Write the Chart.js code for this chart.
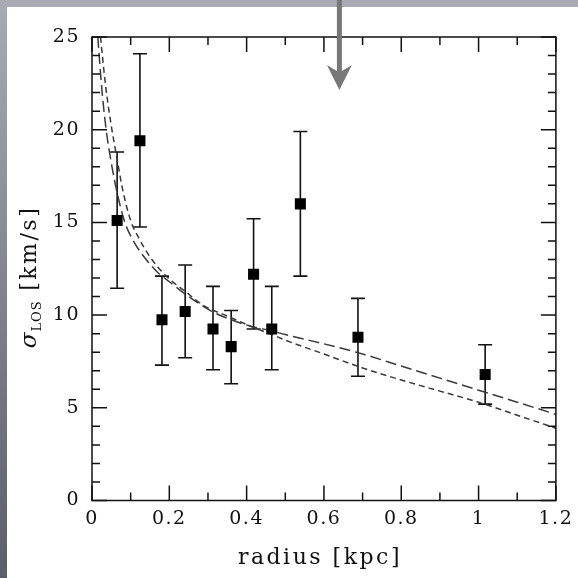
<!DOCTYPE html>
<html>
<head>
<meta charset="utf-8">
<script src="https://cdn.jsdelivr.net/npm/chart.js@4.4.1/dist/chart.umd.min.js"></script>
<style>
  html, body { margin: 0; padding: 0; background: #fff; }
</style>
</head>
<body>
<canvas id="dispersionChart" width="578" height="578"></canvas>
<script>
// binned line-of-sight velocity dispersion with 1-sigma errors
const radius  = [0.065, 0.124, 0.181, 0.241, 0.313, 0.360, 0.418, 0.465, 0.539, 0.688, 1.017];
const sigma   = [15.1, 19.4, 9.75, 10.2, 9.25, 8.3, 12.2, 9.25, 16.0, 8.8, 6.8];
const errHigh = [18.8, 24.1, 12.1, 12.7, 11.55, 10.25, 15.2, 11.55, 19.9, 10.9, 8.4];
const errLow  = [11.45, 14.75, 7.3, 7.7, 7.05, 6.3, 9.25, 7.05, 12.1, 6.7, 5.2];

// model curves (long dash / short dash)
const modelLongR = [0.015, 0.025, 0.036, 0.05, 0.065, 0.085, 0.11, 0.14, 0.17, 0.2, 0.25, 0.31, 0.36, 0.41, 0.465, 0.5, 0.6, 0.7, 0.8, 0.9, 1.0, 1.1, 1.2];
const modelLongS = [25, 22.3, 20.1, 18.2, 16.6, 15.0, 13.9, 13.0, 12.3, 11.8, 11.0, 10.2, 9.75, 9.4, 9.15, 8.95, 8.45, 7.9, 7.25, 6.6, 5.95, 5.3, 4.65];
const modelShortR = [0.022, 0.035, 0.05, 0.065, 0.08, 0.1, 0.12, 0.145, 0.17, 0.2, 0.24, 0.29, 0.35, 0.41, 0.465, 0.5, 0.6, 0.7, 0.8, 0.9, 1.0, 1.1, 1.2];
const modelShortS = [25, 22.4, 20.2, 18.4, 16.7, 15.1, 14.2, 13.3, 12.6, 11.95, 11.3, 10.5, 9.95, 9.4, 8.95, 8.65, 7.9, 7.15, 6.5, 5.9, 5.3, 4.6, 3.9];

// radius marked by the arrow
const arrowR = 0.64;

const FONT = 'DejaVu Serif';
const INK = '#111';

const toPoints = (xs, ys) => xs.map((x, i) => ({ x: x, y: ys[i] }));

const isMajorX = v => Math.abs(v / 0.2 - Math.round(v / 0.2)) < 1e-6;
const isMajorY = v => Math.abs(v / 5 - Math.round(v / 5)) < 1e-6;

// grey page edge on the left and top, white panel
const backdrop = {
  id: 'backdrop',
  beforeDraw(chart) {
    const ctx = chart.ctx;
    const g = ctx.createLinearGradient(0, 0, 0, chart.height);
    g.addColorStop(0, '#aaaab3');
    g.addColorStop(1, '#5c5c6b');
    ctx.fillStyle = g;
    ctx.fillRect(0, 0, chart.width, chart.height);
    ctx.fillStyle = '#fff';
    ctx.fillRect(7, 7, chart.width - 7, chart.height - 7);
    ctx.letterSpacing = '1.5px';
  }
};

const errorBars = {
  id: 'errorBars',
  beforeDatasetsDraw(chart) {
    const ctx = chart.ctx;
    const xs = chart.scales.x, ys = chart.scales.y;
    ctx.save();
    ctx.strokeStyle = INK;
    ctx.lineWidth = 1.6;
    radius.forEach((r, i) => {
      const px = xs.getPixelForValue(r);
      const top = ys.getPixelForValue(errHigh[i]);
      const bot = ys.getPixelForValue(errLow[i]);
      ctx.beginPath();
      ctx.moveTo(px, top); ctx.lineTo(px, bot);
      ctx.moveTo(px - 7, top); ctx.lineTo(px + 7, top);
      ctx.moveTo(px - 7, bot); ctx.lineTo(px + 7, bot);
      ctx.stroke();
    });
    ctx.restore();
  }
};

// box with inward ticks on all four sides, axis titles, arrow
const frame = {
  id: 'frame',
  afterDraw(chart) {
    const ctx = chart.ctx;
    const a = chart.chartArea;
    const xs = chart.scales.x, ys = chart.scales.y;
    ctx.save();
    ctx.strokeStyle = INK;
    ctx.lineWidth = 1.5;
    ctx.strokeRect(a.left, a.top, a.right - a.left, a.bottom - a.top);
    ctx.beginPath();
    xs.ticks.forEach(t => {
      const px = xs.getPixelForValue(t.value);
      const len = isMajorX(t.value) ? 15 : 8;
      ctx.moveTo(px, a.bottom); ctx.lineTo(px, a.bottom - len);
      ctx.moveTo(px, a.top); ctx.lineTo(px, a.top + len);
    });
    ys.ticks.forEach(t => {
      const py = ys.getPixelForValue(t.value);
      const len = isMajorY(t.value) ? 15 : 8;
      ctx.moveTo(a.left, py); ctx.lineTo(a.left + len, py);
      ctx.moveTo(a.right, py); ctx.lineTo(a.right - len, py);
    });
    ctx.stroke();

    // x title
    ctx.fillStyle = INK;
    ctx.letterSpacing = '2.5px';
    ctx.font = '22px "' + FONT + '"';
    ctx.textAlign = 'center';
    ctx.textBaseline = 'alphabetic';
    ctx.fillText('radius [kpc]', (a.left + a.right) / 2 - 4, 564);

    // y title: sigma with LOS subscript, rotated
    ctx.translate(36, 277);
    ctx.rotate(-Math.PI / 2);
    ctx.textAlign = 'left';
    const sym = 'σ', sub = 'LOS', unit = ' [km/s]';
    ctx.font = 'italic 23px "' + FONT + '"';
    ctx.letterSpacing = '1px';
    const wSym = ctx.measureText(sym).width;
    ctx.font = '13px "' + FONT + '"';
    ctx.letterSpacing = '1px';
    const wSub = ctx.measureText(sub).width;
    ctx.font = '22px "' + FONT + '"';
    ctx.letterSpacing = '2.5px';
    const wUnit = ctx.measureText(unit).width;
    let x0 = -(wSym + wSub + wUnit) / 2;
    ctx.font = 'italic 23px "' + FONT + '"';
    ctx.letterSpacing = '1px';
    ctx.fillText(sym, x0, 0);
    x0 += wSym;
    ctx.font = '13px "' + FONT + '"';
    ctx.fillText(sub, x0, 5);
    x0 += wSub;
    ctx.font = '22px "' + FONT + '"';
    ctx.letterSpacing = '2.5px';
    ctx.fillText(unit, x0, 0);
    ctx.setTransform(1, 0, 0, 1, 0, 0);

    // arrow pointing down into the plot
    const ax = xs.getPixelForValue(arrowR);
    ctx.fillStyle = '#787878';
    ctx.beginPath();
    ctx.moveTo(ax - 2.5, 0);
    ctx.lineTo(ax - 2.5, 71);
    ctx.lineTo(ax - 12.5, 65);
    ctx.lineTo(ax, 90);
    ctx.lineTo(ax + 12.5, 65);
    ctx.lineTo(ax + 2.5, 71);
    ctx.lineTo(ax + 2.5, 0);
    ctx.closePath();
    ctx.fill();
    ctx.restore();
  }
};

new Chart(document.getElementById('dispersionChart'), {
  type: 'scatter',
  data: {
    datasets: [
      {
        label: 'data',
        data: toPoints(radius, sigma),
        pointStyle: 'rect',
        pointRadius: 7.8,
        backgroundColor: '#000',
        borderColor: '#000',
        borderWidth: 0
      },
      {
        label: 'model long dash',
        data: toPoints(modelLongR, modelLongS),
        showLine: true,
        pointRadius: 0,
        borderColor: '#3a3a3a',
        borderWidth: 1.5,
        borderDash: [11, 5],
        cubicInterpolationMode: 'monotone'
      },
      {
        label: 'model short dash',
        data: toPoints(modelShortR, modelShortS),
        showLine: true,
        pointRadius: 0,
        borderColor: '#3a3a3a',
        borderWidth: 1.5,
        borderDash: [6, 4],
        cubicInterpolationMode: 'monotone'
      }
    ]
  },
  options: {
    responsive: false,
    animation: false,
    devicePixelRatio: 1,
    layout: { padding: { left: 0, top: 37, right: 22, bottom: 0 } },
    plugins: { legend: { display: false }, tooltip: { enabled: false } },
    scales: {
      x: {
        type: 'linear',
        min: 0,
        max: 1.2,
        grid: { display: false, drawTicks: false },
        border: { display: false },
        ticks: {
          stepSize: 0.1,
          autoSkip: false,
          maxRotation: 0,
          padding: 7,
          color: INK,
          font: { family: FONT, size: 19 },
          callback: v => isMajorX(v) ? String(Math.round(v * 10) / 10) : ''
        },
        afterFit: s => { s.height = 77.5; }
      },
      y: {
        type: 'linear',
        min: 0,
        max: 25,
        grid: { display: false, drawTicks: false },
        border: { display: false },
        ticks: {
          stepSize: 1,
          autoSkip: false,
          padding: 12,
          color: INK,
          font: { family: FONT, size: 19 },
          callback: v => isMajorY(v) ? String(v) : ''
        },
        afterFit: s => { s.width = 92; }
      }
    }
  },
  plugins: [backdrop, errorBars, frame]
});
</script>
</body>
</html>
